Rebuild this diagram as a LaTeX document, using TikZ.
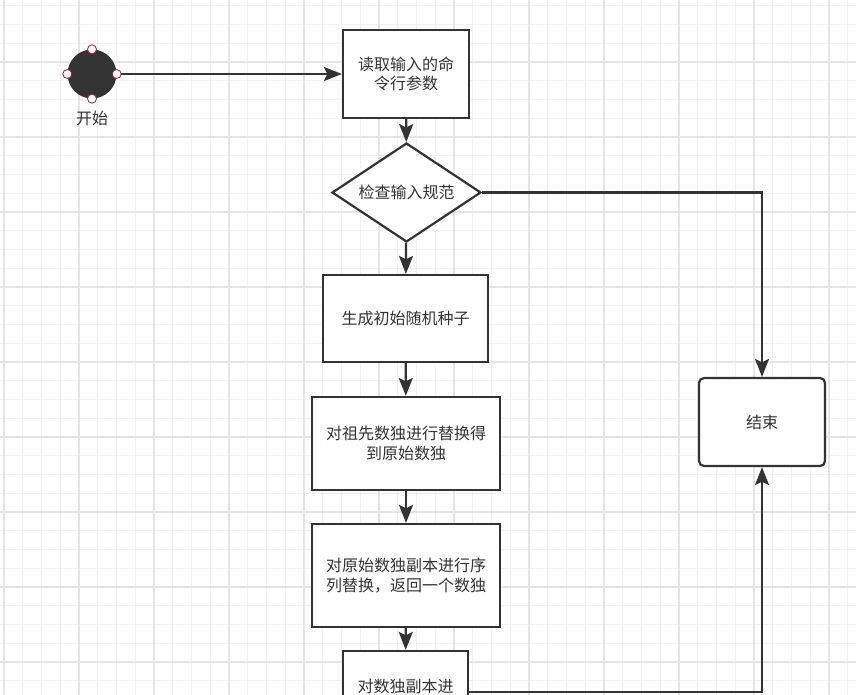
\documentclass[tikz,border=0pt]{standalone}
\usepackage{fontspec}
\newfontfamily\cjkfont{Noto Sans CJK SC}
\definecolor{flowdark}{RGB}{51, 51, 51}
\definecolor{gridlight}{RGB}{242, 242, 242}
\definecolor{gridmid}{RGB}{229, 229, 229}
\definecolor{portred}{RGB}{170, 30, 30}
\usepackage{tikz}
\usetikzlibrary{shapes, arrows.meta, positioning, calc}

\begin{document}
\begin{tikzpicture}[x=1pt, y=-1pt,
  procbox/.style={draw=flowdark, line width=2.2pt, fill=white, text=flowdark, align=center, inner sep=0pt, font=\cjkfont\fontsize{16}{19.5}\selectfont},
  checkbox/.style={procbox, diamond, aspect=1.5},
  endbox/.style={procbox, rounded corners=5pt},
  port/.style={circle, draw=portred, fill=white, line width=0.8pt, minimum size=9pt, inner sep=0pt},
  flow/.style={draw=flowdark, line width=2.2pt, -{Stealth[length=18pt, width=14pt, inset=3.5pt]}},
  gridminor/.style={draw=gridlight, line width=1pt},
  gridmajor/.style={draw=gridmid, line width=1.2pt}]

  \useasboundingbox (0, 0) rectangle (856, 695);
  \clip (0, 0) rectangle (856, 695);
  \fill[white] (0, 0) rectangle (856, 695);

  % background grid
  \foreach \i in {0,...,45} \draw[gridminor] ({4+18.75*\i}, 0) -- ++(0, 695);
  \foreach \j in {0,...,36} \draw[gridminor] (0, {5.75+18.75*\j}) -- ++(856, 0);
  \foreach \i in {0,...,11} \draw[gridmajor] ({4+75*\i}, 0) -- ++(0, 695);
  \foreach \j in {1,...,9} \draw[gridmajor] (0, {-13+75*\j}) -- ++(856, 0);

  % nodes
  \node[circle, fill=flowdark, minimum size=49pt, inner sep=0pt] (start) at (92, 74) {};
  \node[font=\cjkfont\fontsize{16}{19.5}\selectfont, text=flowdark] (startlabel) at (92, 118) {开始};

  \node[procbox, minimum width=126pt, minimum height=88pt] (read) at (406, 74) {读取输入的命\\令行参数};
  \node[checkbox, minimum width=149pt, minimum height=99pt] (check) at (406.5, 192.5) {检查输入规范};
  \node[procbox, minimum width=165pt, minimum height=87pt] (seed) at (405.5, 318.5) {生成初始随机种子};
  \node[procbox, minimum width=188pt, minimum height=93pt] (swap) at (406, 443.5) {对祖先数独进行替换得\\到原始数独};
  \node[procbox, minimum width=188pt, minimum height=103pt] (perm) at (406, 575.5) {对原始数独副本进行序\\列替换，返回一个数独};
  \node[procbox, minimum width=125pt, minimum height=82pt, text height=14pt, text depth=14pt] (copy) at (405.5, 692) {对数独副本进};
  \node[endbox, minimum width=126pt, minimum height=88pt] (finish) at (762, 422) {结束};

  % connectors
  \draw[flow] (start) -- (read);
  \draw[flow] (read) -- (check);
  \draw[flow] (check) -- (seed);
  \draw[flow] (seed) -- (swap);
  \draw[flow] (swap) -- (perm);
  \draw[flow] (perm) -- (copy);
  \draw[flow] (check.east) -| (finish.north);
  \draw[flow] (copy.east) -| (finish.south);

  % connection points of the start node
  \foreach \a in {north, east, south, west}
    \node[port] (port-\a) at (start.\a) {};
\end{tikzpicture}
\end{document}
